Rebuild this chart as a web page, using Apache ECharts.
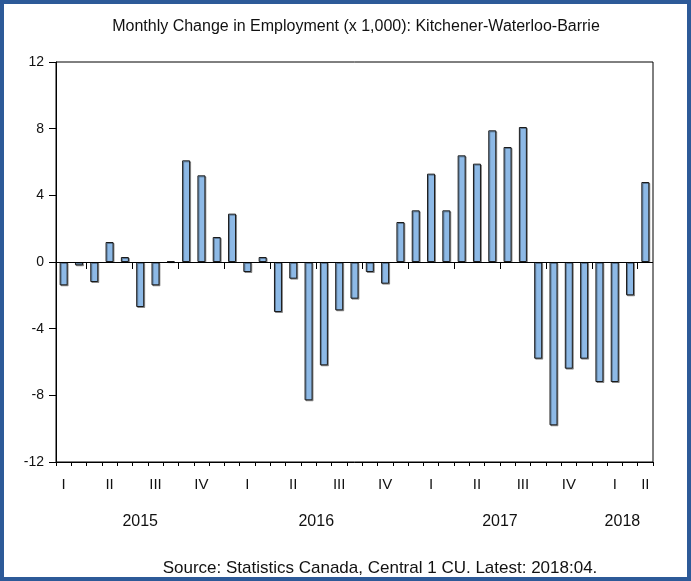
<!DOCTYPE html>
<html>
<head>
<meta charset="utf-8">
<script src="https://cdn.jsdelivr.net/npm/echarts@6/dist/echarts.min.js"></script>
<style>
  html, body { margin: 0; padding: 0; background: #fff; }
  #chart { width: 691px; height: 581px; }
</style>
</head>
<body>
<div id="chart"></div>
<script>
// monthly change in employment, 2015:02 .. 2018:04 (thousands)
var months = ['2015-02', '2015-03', '2015-04', '2015-05', '2015-06', '2015-07', '2015-08', '2015-09', '2015-10', '2015-11', '2015-12',
  '2016-01', '2016-02', '2016-03', '2016-04', '2016-05', '2016-06', '2016-07', '2016-08', '2016-09', '2016-10', '2016-11', '2016-12',
  '2017-01', '2017-02', '2017-03', '2017-04', '2017-05', '2017-06', '2017-07', '2017-08', '2017-09', '2017-10', '2017-11', '2017-12',
  '2018-01', '2018-02', '2018-03', '2018-04']
var changes = [-1.4, -0.2, -1.2, 1.2, 0.3, -2.7, -1.4, 0.05, 6.1, 5.2, 1.5,
  2.9, -0.6, 0.3, -3.0, -1.0, -8.3, -6.2, -2.9, -2.2, -0.6, -1.3,
  2.4, 3.1, 5.3, 3.1, 6.4, 5.9, 7.9, 6.9, 8.1, -5.8, -9.8, -6.4,
  -5.8, -7.2, -7.2, -2.0, 4.8]

// quarter labels, placed at the middle of each quarter's span of months
var quarterLabels = ['I', 'II', 'III', 'IV', 'I', 'II', 'III', 'IV', 'I', 'II', 'III', 'IV', 'I', 'II']
var quarterPos = [0.5, 3.5, 6.5, 9.5, 12.5, 15.5, 18.5, 21.5, 24.5, 27.5, 30.5, 33.5, 36.5, 38.5]
var quarterBreaks = [2, 5, 8, 11, 14, 17, 20, 23, 26, 29, 32, 35, 38]
var yearLabels = ['2015', '2016', '2017', '2018']
var yearPos = [5.5, 17, 29, 37]
var yTicks = { min: -12, max: 12, step: 4 }

var font = 'Liberation Sans, Arial, sans-serif'
var chart = echarts.init(document.getElementById('chart'))

var option = {
  backgroundColor: '#fff',
  animation: false,
  title: [
    {
      text: 'Monthly Change in Employment (x 1,000): Kitchener-Waterloo-Barrie',
      left: 351,
      top: 14,
      textAlign: 'center',
      textStyle: { fontFamily: font, fontSize: 16, fontWeight: 'normal', color: '#111' }
    },
    {
      text: 'Source: Statistics Canada, Central 1 CU. Latest: 2018:04.',
      left: 375,
      top: 555,
      textAlign: 'center',
      textStyle: { fontFamily: font, fontSize: 17, fontWeight: 'normal', color: '#111' }
    }
  ],
  graphic: [
    {
      type: 'rect',
      shape: { x: 2, y: 2, width: 687, height: 577 },
      style: { fill: 'none', stroke: '#2d5a98', lineWidth: 4 },
      silent: true
    }
  ],
  grid: {
    left: 56,
    right: 38,
    top: 62,
    bottom: 119,
    show: true,
    borderColor: '#000',
    borderWidth: 1
  },
  xAxis: [
    {
      type: 'category',
      data: months,
      axisLine: { onZero: false, lineStyle: { color: '#000', width: 1 } },
      axisTick: { show: true, interval: 0, length: 4, lineStyle: { color: '#000' } },
      axisLabel: { show: false }
    },
    {
      type: 'value',
      position: 'bottom',
      min: 0,
      max: months.length,
      splitLine: { show: false },
      axisLine: { show: false },
      axisTick: { show: true, length: 7, customValues: quarterBreaks, lineStyle: { color: '#000' } },
      axisLabel: {
        customValues: quarterPos,
        margin: 15,
        fontFamily: font,
        fontSize: 15,
        color: '#111',
        formatter: function (v) {
          var i = quarterPos.indexOf(v)
          return i >= 0 ? quarterLabels[i] : ''
        }
      }
    },
    {
      type: 'value',
      position: 'bottom',
      min: 0,
      max: months.length,
      splitLine: { show: false },
      axisLine: { show: false },
      axisTick: { show: false },
      axisLabel: {
        customValues: yearPos,
        margin: 52,
        fontFamily: font,
        fontSize: 16,
        color: '#111',
        formatter: function (v) {
          var i = yearPos.indexOf(v)
          return i >= 0 ? yearLabels[i] : ''
        }
      }
    }
  ],
  yAxis: {
    type: 'value',
    min: yTicks.min,
    max: yTicks.max,
    interval: yTicks.step,
    splitLine: { show: false },
    axisLine: { show: true, lineStyle: { color: '#000' } },
    axisTick: { show: true, length: 7, lineStyle: { color: '#000' } },
    axisLabel: { margin: 12, fontFamily: font, fontSize: 14, color: '#111' }
  },
  series: [
    {
      name: 'Employment change',
      type: 'bar',
      xAxisIndex: 0,
      data: changes,
      barWidth: 8,
      itemStyle: {
        color: '#8db9e6',
        borderColor: '#1a1a1a',
        borderWidth: 1,
        shadowColor: 'rgba(0,0,0,0.35)',
        shadowOffsetX: 1,
        shadowOffsetY: 1
      },
      markLine: {
        silent: true,
        symbol: 'none',
        label: { show: false },
        lineStyle: { color: '#000', width: 1, type: 'solid' },
        data: [{ yAxis: 0 }]
      }
    }
  ]
}

chart.setOption(option)
</script>
</body>
</html>
